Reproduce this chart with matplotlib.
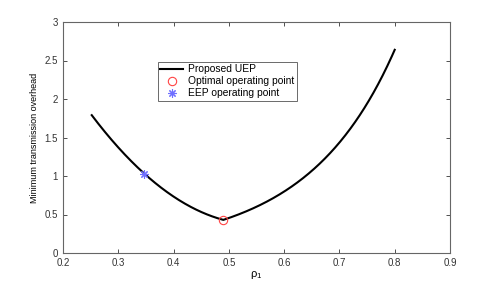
import matplotlib
matplotlib.use("Agg")
import matplotlib.pyplot as plt
import numpy as np

plt.rcParams['font.family'] = ['Liberation Sans', 'DejaVu Sans']

rho = [0.252, 0.279, 0.303, 0.327, 0.348, 0.375, 0.412, 0.448, 0.49,
       0.538, 0.60, 0.647, 0.70, 0.737, 0.772, 0.80]
overhead = [1.79, 1.555, 1.34, 1.14, 1.01, 0.86, 0.71, 0.56, 0.43,
            0.59, 0.82, 1.03, 1.43, 1.73, 2.17, 2.64]
opt_point = (0.49, 0.43)
eep_point = (0.347, 1.02)

# smooth the read-off points of each branch with a low-order least-squares fit
r = np.array(rho); o = np.array(overhead)
k = rho.index(opt_point[0])
w_l = np.ones(k + 1); w_l[[0, -1]] = 10
w_r = np.ones(len(r) - k); w_r[[0, -1]] = 10
cl = np.polyfit(r[:k + 1], o[:k + 1], 2, w=w_l)
cr = np.polyfit(r[k:], np.log(o[k:]), 2, w=w_r)
xs_l = np.linspace(r[0], r[k], 200)
xs_r = np.linspace(r[k], r[-1], 300)
ys_l = np.polyval(cl, xs_l)
ys_r = np.exp(np.polyval(cr, xs_r))
xs = np.concatenate([xs_l, xs_r]); ys = np.concatenate([ys_l, ys_r])

fig = plt.figure(figsize=(4.98, 2.85), dpi=100)
ax = fig.add_axes([63/498, 1-253/285, (450-63)/498, (253-22)/285])

ax.plot(xs, ys, color='black', lw=1.5, label='Proposed UEP')
ax.plot(*opt_point, 'o', mfc='none', mec='#ff4444', ms=6, mew=0.8, label='Optimal operating point')
ax.plot(*eep_point, marker=(8, 2, 0), ls='none', color='#6f6fff', ms=6, mew=0.8, label='EEP operating point')

ax.set_xlim(0.2, 0.9)
ax.set_ylim(0, 3)
ax.set_xticks(np.arange(0.2, 0.91, 0.1))
ax.set_yticks(np.arange(0, 3.01, 0.5))
ax.set_xticklabels(['0.2', '0.3', '0.4', '0.5', '0.6', '0.7', '0.8', '0.9'])
ax.set_yticklabels(['0', '0.5', '1', '1.5', '2', '2.5', '3'])
ax.tick_params(direction='in', labelsize=7, length=3, width=0.6, colors='#333333', top=True, right=True)
for s in ax.spines.values():
    s.set_color('#666666'); s.set_linewidth(0.8)
ax.set_xlabel(r'$\mathregular{\rho_1}$', fontsize=8, labelpad=1)
ax.set_ylabel('Minimum transmission overhead', fontsize=6.5, labelpad=4)
leg = ax.legend(loc='upper left', bbox_to_anchor=((157.7-63)/387, 1-(61.7-22)/231), fontsize=7.4,
                frameon=True, fancybox=False, edgecolor='#444444', handlelength=2.2,
                borderpad=0.25, labelspacing=0.2, handletextpad=0.5, borderaxespad=0)
leg.get_frame().set_linewidth(0.7)
fig.savefig('out.png', dpi=100)
